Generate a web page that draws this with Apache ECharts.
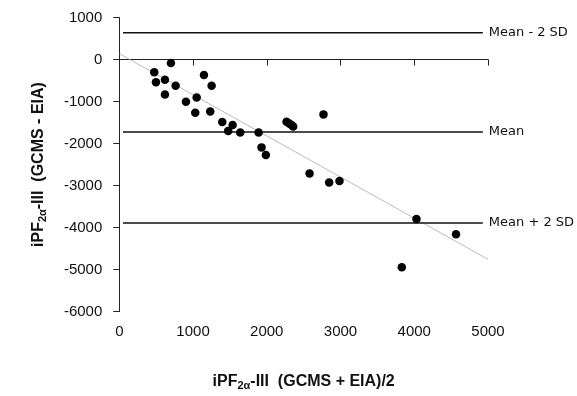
<!DOCTYPE html>
<html>
<head>
<meta charset="utf-8">
<script src="https://cdn.jsdelivr.net/npm/echarts@6/dist/echarts.min.js"></script>
<style>html,body{margin:0;padding:0;background:#fff}#c{width:577px;height:396px}</style>
</head>
<body>
<div id="c"></div>
<script>
// Mean of the two methods (x) and their difference (y)
const meanX = [474, 497, 619, 700, 619, 764, 904, 1049, 1030, 1148, 1252, 1233, 1396, 1477, 1537, 1640, 1889, 1929, 1988, 2268, 2304, 2336, 2358, 2769, 2580, 2846, 2986, 4030, 4566, 3831];
const diffY = [-299, -542, -480, -79, -833, -621, -1006, -904, -1266, -369, -621, -1234, -1486, -1698, -1557, -1737, -1737, -2091, -2272, -1478, -1525, -1557, -1596, -1305, -2712, -2925, -2893, -3797, -4159, -4946];
// Reference lines
const refNames = ['Mean - 2 SD', 'Mean', 'Mean + 2 SD'];
const refValues = [637, -1722, -3892];
const refXRange = [50, 4930];
// Regression line end points
const regX = [0, 5000];
const regY = [141, -4757];
// Axis ticks
const xTicks = [0, 1000, 2000, 3000, 4000, 5000];
const yTicks = [-6000, -5000, -4000, -3000, -2000, -1000, 0, 1000];

const font = 'Liberation Sans';
const chart = echarts.init(document.getElementById('c'));
const series = [];
series.push({
  type: 'line', data: regX.map((x, i) => [x, regY[i]]), symbol: 'none', silent: true,
  lineStyle: { color: '#aaaaaa', width: 0.8 }, z: 1
});
refNames.forEach((n, i) => {
  series.push({
    type: 'line', name: n, data: refXRange.map(x => [x, refValues[i]]), symbol: 'none', silent: true,
    lineStyle: { color: '#111', width: 1.5 }, z: 2,
    endLabel: { show: true, formatter: n, color: '#111', fontFamily: 'DejaVu Sans', fontSize: 13, distance: 6 }
  });
});
series.push({
  type: 'scatter', data: meanX.map((x, i) => [x, diffY[i]]), symbol: 'circle', symbolSize: 8.5,
  itemStyle: { color: '#000', opacity: 1 }, z: 3
});

const nameRich = {
  a: { fontFamily: font, fontWeight: 'bold', fontSize: 16, color: '#111' },
  s: { fontFamily: font, fontWeight: 'bold', fontSize: 11, color: '#111', verticalAlign: 'bottom', padding: [8, 0, 0, 0] }
};
const plain = v => String(v);

chart.setOption({
  animation: false,
  grid: { left: 119.3, right: 89, top: 17.6, bottom: 81.6, containLabel: false },
  xAxis: {
    type: 'value', min: xTicks[0], max: xTicks[xTicks.length - 1], interval: 1000, offset: 2.5,
    axisLine: { show: true, lineStyle: { color: '#222', width: 1 } },
    axisTick: { show: true, length: 6, lineStyle: { color: '#222' } },
    splitLine: { show: false },
    axisLabel: { color: '#111', fontFamily: font, fontSize: 15, margin: 10, formatter: plain },
    name: '{a|iPF}{s|2α}{a|-III  (GCMS + EIA)/2}', nameLocation: 'middle', nameGap: 58,
    nameTextStyle: { rich: nameRich }
  },
  yAxis: {
    type: 'value', min: yTicks[0], max: yTicks[yTicks.length - 1], interval: 1000, offset: 3,
    axisLine: { show: true, lineStyle: { color: '#222', width: 1 } },
    axisTick: { show: true, length: 6, lineStyle: { color: '#222' } },
    splitLine: { show: false },
    axisLabel: { color: '#111', fontFamily: font, fontSize: 15, margin: 14, formatter: plain },
    name: '{a|iPF}{s|2α}{a|-III  (GCMS - EIA)}', nameLocation: 'middle', nameGap: 68, nameRotate: 90,
    nameTextStyle: { rich: nameRich }
  },
  series: series
});
</script>
</body>
</html>
